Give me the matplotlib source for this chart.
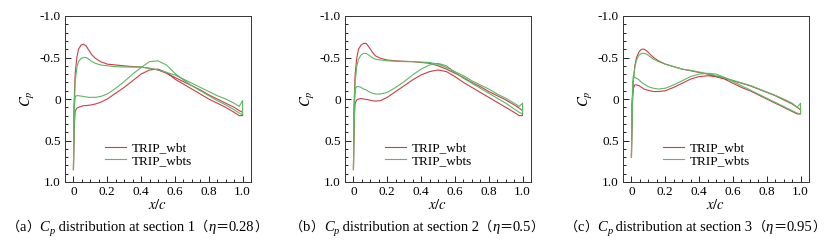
import matplotlib
matplotlib.use("Agg")
import matplotlib.pyplot as plt
from matplotlib.ticker import MultipleLocator

plt.rcParams['font.family'] = ['Liberation Serif', 'Noto Sans CJK SC']
plt.rcParams['mathtext.fontset'] = 'stix'

# chordwise stations shared by all curves
x_c = [0.0, 0.003, 0.01, 0.02, 0.03, 0.045, 0.06, 0.075, 0.09, 0.11, 0.13, 0.16, 0.2, 0.25,
       0.3, 0.35, 0.4, 0.45, 0.5, 0.55, 0.6, 0.65, 0.7, 0.75, 0.8, 0.85, 0.9, 0.95, 0.98, 1.0]

# section 1 (eta = 0.28)
s1_wbt_upper = [0.85, 0.1, -0.3, -0.5, -0.6, -0.65, -0.66, -0.64, -0.59, -0.53, -0.49, -0.45, -0.42, -0.41,
                -0.40, -0.39, -0.385, -0.37, -0.35, -0.31, -0.26, -0.21, -0.16, -0.11, -0.05, 0.0, 0.05, 0.10, 0.14, 0.16]
s1_wbt_lower = [0.85, 0.4, 0.15, 0.11, 0.1, 0.09, 0.08, 0.08, 0.075, 0.07, 0.06, 0.04, 0.0, -0.07,
                -0.14, -0.22, -0.3, -0.35, -0.36, -0.32, -0.24, -0.18, -0.12, -0.06, 0.0, 0.05, 0.1, 0.16, 0.2, 0.2]
s1_wbts_upper = [0.85, 0.2, -0.2, -0.38, -0.45, -0.49, -0.5, -0.5, -0.48, -0.45, -0.43, -0.41, -0.40, -0.39,
                 -0.385, -0.385, -0.385, -0.37, -0.35, -0.32, -0.29, -0.24, -0.19, -0.14, -0.09, -0.04, 0.0, 0.05, 0.09, 0.02]
s1_wbts_lower = [0.85, 0.2, -0.03, -0.04, -0.04, -0.035, -0.03, -0.025, -0.02, -0.02, -0.02, -0.03, -0.06, -0.13,
                 -0.21, -0.3, -0.38, -0.45, -0.46, -0.41, -0.31, -0.23, -0.16, -0.1, -0.04, 0.02, 0.07, 0.13, 0.17, 0.19]

# section 2 (eta = 0.5)
s2_wbt_upper = [0.85, 0.1, -0.3, -0.5, -0.6, -0.65, -0.67, -0.67, -0.63, -0.57, -0.52, -0.49, -0.47, -0.46,
                -0.455, -0.45, -0.44, -0.43, -0.4, -0.36, -0.31, -0.26, -0.2, -0.15, -0.09, -0.04, 0.01, 0.07, 0.11, 0.14]
s2_wbt_lower = [0.85, 0.3, 0.05, 0.01, 0.0, -0.005, 0.0, 0.005, 0.01, 0.02, 0.025, 0.02, -0.02, -0.09,
                -0.16, -0.23, -0.29, -0.33, -0.35, -0.33, -0.27, -0.2, -0.14, -0.08, -0.02, 0.04, 0.1, 0.16, 0.2, 0.2]
s2_wbts_upper = [0.85, 0.2, -0.2, -0.4, -0.48, -0.53, -0.55, -0.55, -0.53, -0.5, -0.48, -0.47, -0.46, -0.455,
                 -0.45, -0.45, -0.445, -0.44, -0.42, -0.38, -0.33, -0.28, -0.22, -0.17, -0.12, -0.06, -0.01, 0.05, 0.09, 0.05]
s2_wbts_lower = [0.85, 0.2, -0.12, -0.15, -0.15, -0.14, -0.12, -0.11, -0.09, -0.07, -0.06, -0.06, -0.08, -0.14,
                 -0.21, -0.29, -0.36, -0.41, -0.43, -0.4, -0.32, -0.25, -0.19, -0.13, -0.07, -0.01, 0.05, 0.12, 0.16, 0.18]

# section 3 (eta = 0.95)
s3_wbt_upper = [0.7, 0.1, -0.2, -0.4, -0.5, -0.57, -0.6, -0.6, -0.58, -0.54, -0.5, -0.46, -0.42, -0.39,
                -0.36, -0.34, -0.32, -0.3, -0.27, -0.25, -0.22, -0.19, -0.16, -0.12, -0.08, -0.04, 0.01, 0.06, 0.1, 0.13]
s3_wbt_lower = [0.7, 0.2, -0.12, -0.17, -0.17, -0.16, -0.14, -0.12, -0.11, -0.1, -0.09, -0.09, -0.1, -0.14,
                -0.19, -0.24, -0.27, -0.28, -0.27, -0.24, -0.19, -0.14, -0.1, -0.05, 0.0, 0.05, 0.1, 0.15, 0.18, 0.18]
s3_wbts_upper = [0.7, 0.1, -0.2, -0.38, -0.47, -0.53, -0.55, -0.55, -0.54, -0.51, -0.48, -0.45, -0.42, -0.39,
                 -0.36, -0.345, -0.325, -0.305, -0.28, -0.255, -0.225, -0.195, -0.165, -0.125, -0.085, -0.045, 0.0, 0.05, 0.1, 0.05]
s3_wbts_lower = [0.7, 0.1, -0.27, -0.26, -0.25, -0.23, -0.2, -0.18, -0.16, -0.14, -0.13, -0.12, -0.13, -0.17,
                 -0.22, -0.27, -0.3, -0.31, -0.3, -0.26, -0.21, -0.16, -0.11, -0.06, -0.01, 0.04, 0.09, 0.14, 0.17, 0.18]

sections = [
    (s1_wbt_upper, s1_wbt_lower, s1_wbts_upper, s1_wbts_lower),
    (s2_wbt_upper, s2_wbt_lower, s2_wbts_upper, s2_wbts_lower),
    (s3_wbt_upper, s3_wbt_lower, s3_wbts_upper, s3_wbts_lower),
]
panel_tags = ["a", "b", "c"]
section_nums = ["1", "2", "3"]
eta_values = ["0.28", "0.5", "0.95"]
series_names = ["TRIP_wbt", "TRIP_wbts"]
colors = ["#cc3d47", "#5cb864"]

W, H = 831, 248
fig = plt.figure(figsize=(W / 100, H / 100), dpi=100)
lefts = [65, 345, 623]
cap_x = [137, 417, 695]

x_loop = x_c + x_c[::-1]
for i, sec in enumerate(sections):
    ax = fig.add_axes([lefts[i] / W, 1 - 182 / H, 186 / W, 166 / H])
    for k in range(2):
        up, lo = sec[2 * k], sec[2 * k + 1]
        ax.plot(x_loop, up + lo[::-1], color=colors[k], lw=0.8, label=series_names[k])
    ax.set_xlim(-0.05, 1.05)
    ax.set_ylim(1.0, -1.0)
    ax.xaxis.set_minor_locator(MultipleLocator(0.05))
    ax.yaxis.set_minor_locator(MultipleLocator(0.1))
    ax.set_xticks([0, 0.2, 0.4, 0.6, 0.8, 1.0])
    ax.set_xticklabels(["0", "0.2", "0.4", "0.6", "0.8", "1.0"])
    ax.set_yticks([-1.0, -0.5, 0, 0.5, 1.0])
    ax.set_yticklabels(["-1.0", "-0.5", "0", "0.5", "1.0"])
    ax.tick_params(which="both", direction="in", top=False, right=False, labelsize=9.5, width=0.6, pad=3)
    ax.tick_params(which="major", length=4)
    ax.tick_params(which="minor", length=2)
    for s in ax.spines.values():
        s.set_linewidth(0.7)
        s.set_color("#333333")
    ax.set_xlabel("$x/c$", fontsize=10.5, labelpad=0)
    ax.set_ylabel("$C_p$", fontsize=10.5, labelpad=2)
    ax.legend(loc="lower left", bbox_to_anchor=(0.18, 0.05), frameon=False, fontsize=9.5,
              handlelength=1.6, handletextpad=0.4, labelspacing=0.05, borderpad=0)

# captions: built from pieces so the full-width signs come from the CJK font
cjk = ['Noto Sans CJK SC']
serif = ['Liberation Serif']
fig.canvas.draw()
renderer = fig.canvas.get_renderer()
cap_y = 1 - 231 / H
for i in range(3):
    pieces = [
        ("（", cjk, "normal", 9.5, 0), (panel_tags[i], serif, "normal", 10.5, 0), ("）", cjk, "normal", 9.5, 0),
        ("C", serif, "italic", 10.5, 0), ("p", serif, "italic", 7.5, -2.5),
        (" distribution at section " + section_nums[i], serif, "normal", 10.5, 0),
        ("（", cjk, "normal", 9.5, 0), ("η", serif, "italic", 10.5, 0), ("＝", cjk, "normal", 9.5, 0),
        (eta_values[i], serif, "normal", 10.5, 0), ("）", cjk, "normal", 9.5, 0),
    ]
    objs = []
    widths = []
    for txt, fam, sty, fs, dy in pieces:
        t = fig.text(0, cap_y + dy / H, txt, family=fam, style=sty, fontsize=fs, va="baseline", ha="left")
        objs.append(t)
        widths.append(t.get_window_extent(renderer).width)
    x0 = cap_x[i] - sum(widths) / 2
    for t, w in zip(objs, widths):
        t.set_x(x0 / W)
        x0 += w

fig.savefig("out.png", dpi=100)
